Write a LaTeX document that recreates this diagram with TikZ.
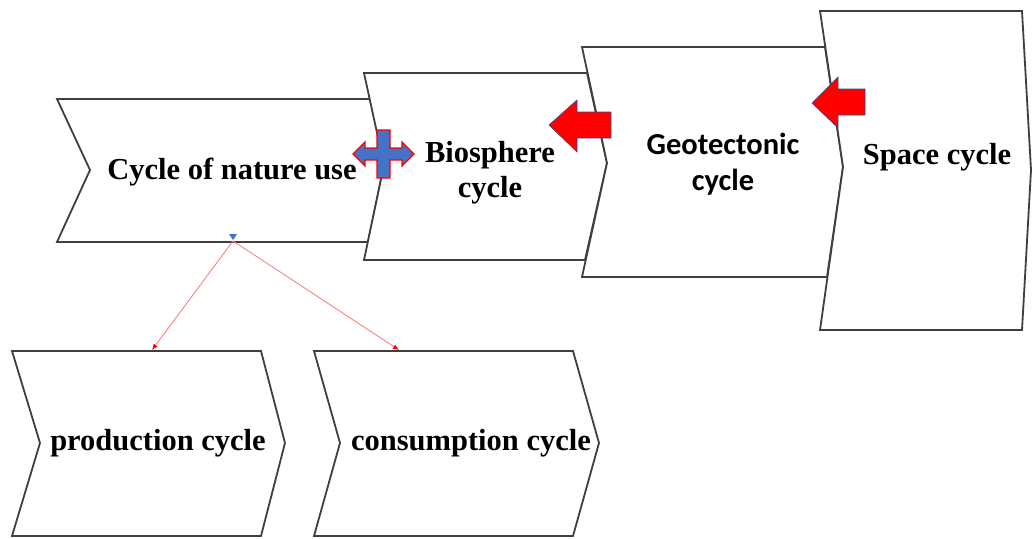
\documentclass[tikz,border=0pt]{standalone}
\usepackage{fontspec}
\setmainfont{Liberation Serif}
\newfontfamily\geofont{Carlito}
\usetikzlibrary{arrows.meta}
\definecolor{edgegray}{HTML}{3F3F3F}
\definecolor{crossblue}{HTML}{4472C4}
\definecolor{arrowrim}{HTML}{2E4A8C}
\tikzset{
  chev/.style={draw=edgegray, fill=white, line width=1.8pt, line join=miter},
  lbl/.style={font=\fontsize{30.5}{35}\selectfont\bfseries, align=center, inner sep=0pt, anchor=base},
  redarrow/.style={fill=red, draw=arrowrim, line width=0.6pt, line join=miter},
  link/.style={draw=red!50, line width=0.9pt, -{Latex[length=6pt,width=5pt,red]}}
}
\begin{document}
\begin{tikzpicture}[x=1pt,y=-1pt]
\useasboundingbox (0,0) rectangle (1032,538);
% top row of cycles
\draw[chev] (57,99) -- (372,99) -- (384,165) -- (368,242) -- (57,242) -- (90,170) -- cycle;
\draw[chev] (364,73) -- (587,73) -- (607,163) -- (585,260) -- (364,260) -- (384,165) -- cycle;
\draw[chev] (582,47) -- (825,47) -- (843,167) -- (827,277) -- (582,277) -- (607,163) -- cycle;
\draw[chev] (820,11) -- (1022,11) -- (1031,170) -- (1022,330) -- (820,330) -- (843,167) -- cycle;
% bottom row
\draw[chev] (12,351) -- (261,351) -- (285,443) -- (261,536) -- (12,536) -- (40,443) -- cycle;
\draw[chev] (314,351) -- (573,351) -- (599,443) -- (573,536) -- (314,536) -- (340,443) -- cycle;
% labels
\node[lbl] (nature) at (232,179) {Cycle of nature use};
\node[lbl] (bio) at (490,197) {Biosphere\\cycle};
\node[lbl,font=\fontsize{30.5}{36}\selectfont\geofont\bfseries] (geo) at (723,190) {Geotectonic\\cycle};
\node[lbl] (space) at (937,164) {Space cycle};
\node[lbl] (prod) at (158,450) {production cycle};
\node[lbl] (cons) at (471,450) {consumption cycle};
% cross between nature use and biosphere
\draw[fill=crossblue,draw=red,line width=1.2pt,line join=miter]
  (353,154) -- (365,142) -- (365,148) -- (377,148) -- (377,130) -- (390,130) -- (390,148)
  -- (402,148) -- (402,142) -- (414,154) -- (402,166) -- (402,160) -- (390,160) -- (390,178)
  -- (377,178) -- (377,160) -- (365,160) -- (365,166) -- cycle;
% block arrows
\draw[redarrow] (549,125) -- (577,100) -- (577,112) -- (611,112) -- (611,138) -- (577,138) -- (577,152) -- cycle;
\draw[redarrow] (812,103) -- (838,77) -- (838,89) -- (865,89) -- (865,115) -- (838,115) -- (838,128) -- cycle;
% split to the sub-cycles
\coordinate (split) at (233,241);
\coordinate (prodin) at (152,350);
\coordinate (consin) at (399,350);
\fill[crossblue] (229,234) -- (237,234) -- (233,240) -- cycle;
\draw[link] (split) -- (prodin);
\draw[link] (split) -- (consin);
\end{tikzpicture}
\end{document}
